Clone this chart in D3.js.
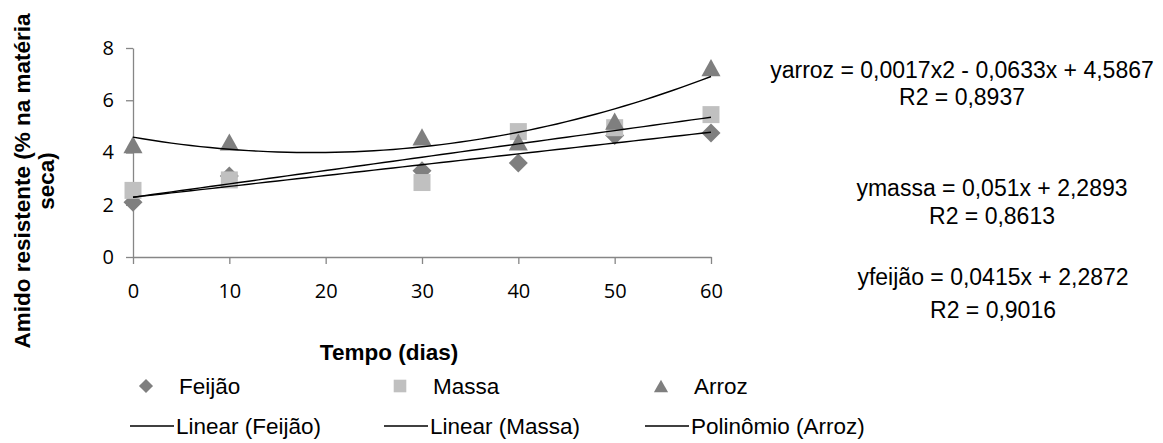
<!DOCTYPE html>
<html>
<head>
<meta charset="utf-8">
<script src="https://cdn.jsdelivr.net/npm/d3@7"></script>
<style>
  html, body { margin: 0; padding: 0; background: #fff; }
  svg { display: block; }
  .tick text { font-family: "Open Sans", "Liberation Sans", sans-serif; font-size: 20px; fill: #000; }
  .axis path, .axis line { stroke: #868686; stroke-width: 1.3px; }
  .bold { font-family: "Liberation Sans", Arial, sans-serif; font-weight: bold; font-size: 22.5px; fill: #000; }
  .reg { font-family: "Liberation Sans", Arial, sans-serif; font-size: 22.5px; fill: #000; }
  .eq { font-family: "Liberation Sans", Arial, sans-serif; font-size: 23px; fill: #000; }
</style>
</head>
<body>
<svg id="chart" width="1163" height="443"></svg>
<script>
// Resistant starch over storage time for three foods
const days   = [0, 10, 30, 40, 50, 60];
const feijao = [2.1, 3.1, 3.3, 3.6, 4.65, 4.75];
const massa  = [2.55, 2.95, 2.85, 4.8, 4.95, 5.45];
const arroz  = [4.3, 4.4, 4.6, 4.4, 5.2, 7.25];

// Fitted trend coefficients (constant, x, x²)
const fitFeijao = [2.2872, 0.0415];
const fitMassa  = [2.2893, 0.051];
const fitArroz  = [4.5867, -0.0633, 0.0017];

const xTicks = [0, 10, 20, 30, 40, 50, 60];
const yTicks = [0, 2, 4, 6, 8];

const seriesNames = ["Feijão", "Massa", "Arroz"];
const trendNames  = ["Linear (Feijão)", "Linear (Massa)", "Polinômio (Arroz)"];
const eqArroz  = ["yarroz = 0,0017x2 - 0,0633x + 4,5867", "R2 = 0,8937"];
const eqMassa  = ["ymassa = 0,051x + 2,2893", "R2 = 0,8613"];
const eqFeijao = ["yfeijão = 0,0415x + 2,2872", "R2 = 0,9016"];

const svg = d3.select("#chart");

const x = d3.scaleLinear().domain([0, 60]).range([133, 711]);
const y = d3.scaleLinear().domain([0, 8]).range([257, 48]);

// Axes
svg.append("g")
  .attr("class", "axis")
  .attr("transform", `translate(${x(0)},0)`)
  .call(d3.axisLeft(y).tickValues(yTicks).tickSize(7).tickSizeOuter(0).tickPadding(12));

svg.append("g")
  .attr("class", "axis")
  .attr("transform", `translate(0,${y(0)})`)
  .call(d3.axisBottom(x).tickValues(xTicks).tickSize(7).tickSizeOuter(0).tickPadding(20));

// Marker shapes
const diamondType = {
  draw(ctx, size) {
    const r = Math.sqrt(size) / 2;
    ctx.moveTo(0, -r); ctx.lineTo(r, 0); ctx.lineTo(0, r); ctx.lineTo(-r, 0); ctx.closePath();
  }
};
const squareType = {
  draw(ctx, size) {
    const r = Math.sqrt(size) / 2;
    ctx.rect(-r, -r, 2 * r, 2 * r);
  }
};
const triangleType = {
  draw(ctx, size) {
    const w = Math.sqrt(size) * 1.06, h = Math.sqrt(size) * 0.95;
    ctx.moveTo(0, -h / 2); ctx.lineTo(w / 2, h / 2); ctx.lineTo(-w / 2, h / 2); ctx.closePath();
  }
};

const series = [
  { name: seriesNames[0], values: feijao, type: diamondType,  size: 19 * 19, color: "#7f7f7f" },
  { name: seriesNames[1], values: massa,  type: squareType,   size: 17 * 17, color: "#c0c0c0" },
  { name: seriesNames[2], values: arroz,  type: triangleType, size: 18 * 18, color: "#7f7f7f" }
];

// Data points
series.forEach(s => {
  svg.append("g").selectAll("path")
    .data(days.map((d, i) => [d, s.values[i]]))
    .join("path")
    .attr("d", d3.symbol().type(s.type).size(s.size))
    .attr("transform", d => `translate(${x(d[0])},${y(d[1])})`)
    .attr("fill", s.color);
});

// Trend lines
const poly = c => t => c.reduce((acc, k, i) => acc + k * Math.pow(t, i), 0);
const samples = d3.range(0, 60.001, 1);
const line = d3.line().x(d => x(d[0])).y(d => y(d[1]));
[fitFeijao, fitMassa, fitArroz].forEach(c => {
  const f = poly(c);
  svg.append("path")
    .datum(samples.map(t => [t, f(t)]))
    .attr("d", line)
    .attr("fill", "none")
    .attr("stroke", "#000")
    .attr("stroke-width", 1.4);
});

// Axis titles
const yTitle = svg.append("text").attr("class", "bold")
  .attr("transform", "translate(0,181) rotate(-90)")
  .attr("text-anchor", "middle");
yTitle.append("tspan").attr("x", 0).attr("y", 30).text("Amido resistente (% na matéria");
yTitle.append("tspan").attr("x", 0).attr("y", 54).text("seca)");

svg.append("text").attr("class", "bold")
  .attr("x", 389).attr("y", 360)
  .attr("text-anchor", "middle")
  .text("Tempo (dias)");

// Regression equations
const eqBlocks = [
  { lines: eqArroz,  cx: 962, ys: [78, 105] },
  { lines: eqMassa,  cx: 992, ys: [196, 224] },
  { lines: eqFeijao, cx: 993, ys: [285, 318] }
];
eqBlocks.forEach(b => {
  b.lines.forEach((t, i) => {
    svg.append("text").attr("class", "eq")
      .attr("x", b.cx).attr("y", b.ys[i])
      .attr("text-anchor", "middle")
      .text(t);
  });
});

// Legend
const colX = [146, 400, 661];
const row1 = 386, row2 = 426;
series.forEach((s, i) => {
  svg.append("path")
    .attr("d", d3.symbol().type(s.type).size(s.size * 0.55))
    .attr("transform", `translate(${colX[i]},${row1})`)
    .attr("fill", s.color);
  svg.append("text").attr("class", "reg")
    .attr("x", colX[i] + 33).attr("y", row1 + 8)
    .text(s.name);
  svg.append("line")
    .attr("x1", colX[i] - 16).attr("x2", colX[i] + 28)
    .attr("y1", row2).attr("y2", row2)
    .attr("stroke", "#000").attr("stroke-width", 1.4);
  svg.append("text").attr("class", "reg")
    .attr("x", colX[i] + 30).attr("y", row2 + 8)
    .text(trendNames[i]);
});
</script>
</body>
</html>
